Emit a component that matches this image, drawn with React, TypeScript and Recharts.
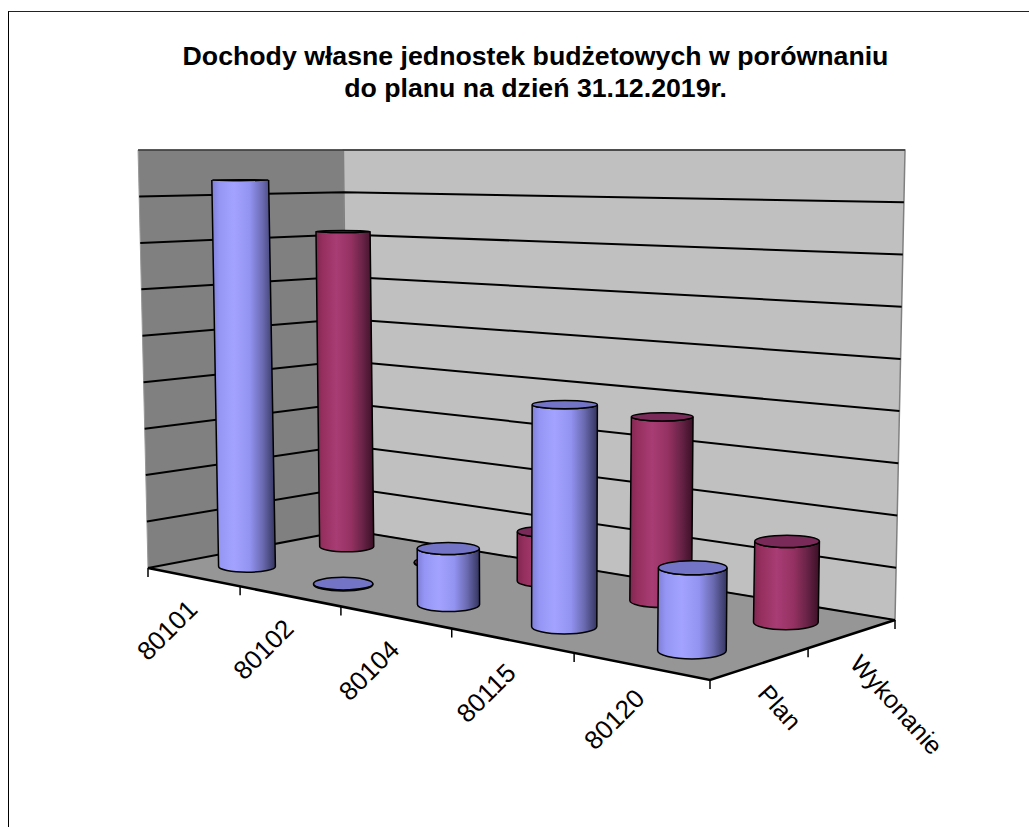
import { BarChart, Bar, XAxis, YAxis } from 'recharts';

const CATEGORIES = ['80101', '80102', '80104', '80115', '80120'];
const SERIES_NAMES = ['Plan', 'Wykonanie'];
const PLAN = [8.35, 0.02, 1.11, 4.19, 1.49];
const WYKONANIE = [7.15, 0.02, 1.03, 3.67, 1.54];
const GRID_VALUES = [0, 1, 2, 3, 4, 5, 6, 7, 8];
const MAX_VALUE = 9;

const WIDTH = 1029;
const HEIGHT = 827;
const PLOT = { left: 148, right: 710, top: 150, bottom: 568 };
const FONT = '"Liberation Sans", Arial, sans-serif';

// corners of the floor on screen: front left, front right, back right, back left
const F = [[148, 568], [710, 680], [895, 620], [348, 530]];
const EYE_Y = 150;
const VANISH_X = 520;
const LEAN = 0.0267;
const FLATTEN = 0.00049;

const dx1 = F[1][0] - F[2][0];
const dx2 = F[3][0] - F[2][0];
const sx = F[0][0] - F[1][0] + F[2][0] - F[3][0];
const dy1 = F[1][1] - F[2][1];
const dy2 = F[3][1] - F[2][1];
const sy = F[0][1] - F[1][1] + F[2][1] - F[3][1];
const den = dx1 * dy2 - dx2 * dy1;
const g = (sx * dy2 - dx2 * sy) / den;
const h = (dx1 * sy - sx * dy1) / den;

const depth = (u: number, v: number) => g * u + h * v + 1;

// u along the categories, v into the chart, w up the wall (all 0..1)
const project = (u: number, v: number, w = 0) => {
  const a = F[1][0] - F[0][0] + g * F[1][0];
  const b = F[3][0] - F[0][0] + h * F[3][0];
  const d = F[1][1] - F[0][1] + g * F[1][1];
  const e = F[3][1] - F[0][1] + h * F[3][1];
  const W = depth(u, v);
  const X = (a * u + b * v + F[0][0]) / W;
  const Y = (d * u + e * v + F[0][1]) / W;
  return [X + w * (X - VANISH_X) * LEAN, Y + w * (EYE_Y - Y)];
};

const pts = (list: number[][]) => list.map((p) => p.join(',')).join(' ');

const toU = (x: number) => (x - PLOT.left) / (PLOT.right - PLOT.left);

const Cylinder = (props: any, v: number, fill: string, topFill: string) => {
  const { x, width, height } = props;
  const u = toU(x + width / 2);
  const w = height / (PLOT.bottom - PLOT.top);
  const rx = width / 2 / depth(u, v);
  const [bx, by] = project(u, v, 0);
  const [tx, ty] = project(u, v, w);
  const ryB = rx * (by - EYE_Y) * FLATTEN;
  const ryT = rx * (ty - EYE_Y) * FLATTEN;
  const side = `M${tx - rx},${ty} L${bx - rx},${by} A${rx},${ryB} 0 0 0 ${bx + rx},${by} L${tx + rx},${ty} A${rx},${ryT} 0 0 1 ${tx - rx},${ty} Z`;
  return (
    <g>
      <path d={side} fill={fill} stroke="#000" strokeWidth={1.5} />
      <ellipse cx={tx} cy={ty} rx={rx} ry={ryT} fill={topFill} stroke="#000" strokeWidth={1.5} />
    </g>
  );
};

const FloorTick = ({ x, payload }: any) => {
  const [px, py] = project(toU(x), 0);
  return (
    <text
      x={px + 6}
      y={py + 34}
      textAnchor="end"
      fontFamily={FONT}
      fontSize={26}
      fill="#000"
      transform={`rotate(-45 ${px + 6} ${py + 34})`}
    >
      {payload.value}
    </text>
  );
};

const Stops = ({ id, colors }: { id: string; colors: string[] }) => (
  <linearGradient id={id} x1="0" y1="0" x2="1" y2="0">
    {colors.map((c, i) => (
      <stop key={i} offset={[0, 0.12, 0.35, 0.6, 0.8, 1][i]} stopColor={c} />
    ))}
  </linearGradient>
);

const data = CATEGORIES.map((name, i) => ({ name, plan: PLAN[i], wykonanie: WYKONANIE[i] }));

export default function App() {
  const lw = [project(0, 0), project(0, 1), project(0, 1, 1), project(0, 0, 1)];
  const bw = [project(0, 1), project(1, 1), project(1, 1, 1), project(0, 1, 1)];
  const floor = [project(0, 0), project(1, 0), project(1, 1), project(0, 1)];

  return (
    <div style={{ position: 'absolute', left: 0, top: 0, width: WIDTH, height: HEIGHT, overflow: 'hidden', background: '#fff' }}>
      <div style={{ position: 'absolute', left: 8, top: 11, width: 1100, height: 900, borderLeft: '1px solid #000', borderTop: '1.5px solid #222' }} />
      <div style={{ position: 'absolute', left: 0, top: 0 }}>
        <BarChart
          width={WIDTH}
          height={HEIGHT}
          data={data}
          margin={{ left: PLOT.left, top: PLOT.top, right: WIDTH - PLOT.right, bottom: HEIGHT - PLOT.bottom - 1 }}
        >
          <defs>
            <Stops id="bluePipe" colors={['#7f7fd6', '#9595f5', '#a3a3ff', '#9292f0', '#6a6ab0', '#34345e']} />
            <Stops id="redPipe" colors={['#80264f', '#96305f', '#a83c74', '#963263', '#6b2448', '#3a1026']} />
          </defs>

          <text x={535.5} y={65} textAnchor="middle" fontFamily={FONT} fontWeight="bold" fontSize={26.7} fill="#000">
            Dochody własne jednostek budżetowych w porównaniu
          </text>
          <text x={535.5} y={97} textAnchor="middle" fontFamily={FONT} fontWeight="bold" fontSize={26.7} fill="#000">
            do planu na dzień 31.12.2019r.
          </text>

          <polygon points={pts(lw)} fill="#808080" stroke="#999" />
          <polygon points={pts(bw)} fill="#c0c0c0" stroke="#808080" strokeWidth={1.5} />
          <polygon points={pts(floor)} fill="#969696" />
          <line x1={lw[3][0]} y1={lw[3][1]} x2={bw[2][0]} y2={bw[2][1]} stroke="#333" strokeWidth={1.5} />

          {GRID_VALUES.map((val) => {
            const w = val / MAX_VALUE;
            const a = project(0, 0, w);
            const b = project(0, 1, w);
            const c = project(1, 1, w);
            return <polyline key={val} points={pts([a, b, c])} fill="none" stroke="#000" strokeWidth={2} />;
          })}

          <polyline points={pts([project(0, 0), project(1, 0), project(1, 1)])} fill="none" stroke="#000" strokeWidth={2.5} />
          {[0, 1, 2, 3, 4, 5].map((i) => {
            const [tx, ty] = project(i / CATEGORIES.length, 0);
            return <line key={i} x1={tx} y1={ty} x2={tx} y2={ty + 9} stroke="#000" strokeWidth={1.5} />;
          })}
          {[0.5, 1].map((v) => {
            const [tx, ty] = project(1, v);
            return <line key={v} x1={tx} y1={ty} x2={tx} y2={ty + 9} stroke="#000" strokeWidth={1.5} />;
          })}
          {SERIES_NAMES.map((name, i) => {
            const [tx, ty] = project(1, i === 0 ? 0.25 : 0.75);
            return (
              <text
                key={name}
                x={tx - 4}
                y={ty + 31}
                fontFamily={FONT}
                fontSize={25}
                fill="#000"
                transform={`rotate(48 ${tx - 4} ${ty + 31})`}
              >
                {name}
              </text>
            );
          })}

          <XAxis xAxisId="plan" dataKey="name" height={1} axisLine={false} tickLine={false} interval={0} tick={FloorTick} />
          <XAxis xAxisId="wyk" dataKey="name" height={0} hide />
          <YAxis width={0} hide domain={[0, MAX_VALUE]} />
          <Bar
            xAxisId="wyk"
            dataKey="wykonanie"
            barSize={57}
            isAnimationActive={false}
            shape={(p: any) => Cylinder(p, 0.75, 'url(#redPipe)', '#7a2a58')}
          />
          <Bar
            xAxisId="plan"
            dataKey="plan"
            barSize={57}
            isAnimationActive={false}
            shape={(p: any) => Cylinder(p, 0.25, 'url(#bluePipe)', '#7474c6')}
          />
        </BarChart>
      </div>
    </div>
  );
}
